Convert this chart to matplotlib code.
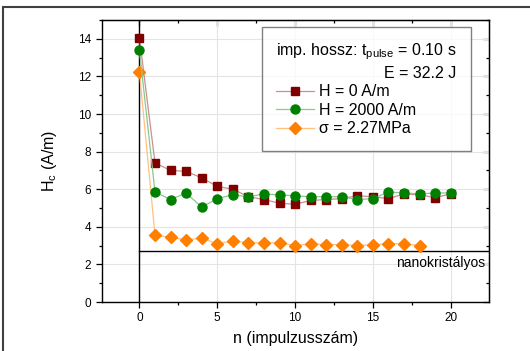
import matplotlib
matplotlib.use("Agg")
from matplotlib import pyplot as plt
from matplotlib.patches import Rectangle
import matplotlib.ticker as ticker

plt.rcParams['font.family'] = ['Liberation Sans', 'DejaVu Sans']

# adatok (leolvasva)
n_h0 = list(range(0, 21))
hc_h0 = [14.05, 7.4, 7.0, 6.95, 6.6, 6.15, 6.0, 5.6, 5.45, 5.25, 5.2,
         5.4, 5.45, 5.5, 5.65, 5.6, 5.5, 5.75, 5.7, 5.55, 5.75]

n_h2000 = list(range(0, 21))
hc_h2000 = [13.4, 5.85, 5.45, 5.8, 5.05, 5.5, 5.7, 5.6, 5.75, 5.7, 5.65,
            5.6, 5.6, 5.6, 5.45, 5.5, 5.85, 5.8, 5.75, 5.8, 5.8]

n_sig = list(range(0, 19))
hc_sig = [12.25, 3.55, 3.45, 3.3, 3.4, 3.1, 3.25, 3.15, 3.15, 3.15, 3.0,
          3.1, 3.05, 3.05, 3.0, 3.05, 3.1, 3.1, 3.0]

nano_level = 2.7

fig = plt.figure(figsize=(5.30, 3.51), dpi=100)
ax = fig.add_axes([0.192, 0.1396, 0.7307, 0.8034])

# keret a kép körül
fig.patches.append(Rectangle((3 / 530, -0.1), 2, (351 - 7) / 351 + 0.1,
                             transform=fig.transFigure, fill=False,
                             edgecolor='#404040', linewidth=1.5))

ax.set_xlim(-2.42, 22.46)
ax.set_ylim(0, 15)
ax.grid(which='major', color='#e4e4e4', linewidth=0.8)
ax.set_axisbelow(True)

ax.plot(n_h0, hc_h0, color='#c89090', linewidth=0.9, marker='s', markersize=5.5,
        markerfacecolor='#800000', markeredgecolor='#800000', label='H = 0 A/m', zorder=3)
ax.plot(n_h2000, hc_h2000, color='#8cc88c', linewidth=0.9, marker='o', markersize=6.5,
        markerfacecolor='#008000', markeredgecolor='#008000', label='H = 2000 A/m', zorder=4)
ax.plot(n_sig, hc_sig, color='#ffc080', linewidth=0.9, marker='D', markersize=6,
        markerfacecolor='#ff8000', markeredgecolor='#ff8000', label='σ = 2.27MPa', zorder=3)

ax.axvline(0, color='black', linewidth=1.0, zorder=2)
ax.plot([0, 22.46], [nano_level, nano_level], color='black', linewidth=1.0, zorder=2)
ax.text(22.2, 2.1, 'nanokristályos', ha='right', va='center', fontsize=10)

ax.xaxis.set_major_locator(ticker.MultipleLocator(5))
ax.xaxis.set_minor_locator(ticker.MultipleLocator(2.5))
ax.yaxis.set_major_locator(ticker.MultipleLocator(2))
ax.yaxis.set_minor_locator(ticker.MultipleLocator(1))
ax.tick_params(which='both', direction='out', labelsize=8.5, width=0.9)
ax.tick_params(which='major', length=4)
ax.tick_params(which='minor', length=2.5)

# felső és jobb tengely befelé mutató jelekkel
sec_x = ax.secondary_xaxis('top')
sec_x.xaxis.set_major_locator(ticker.MultipleLocator(5))
sec_x.xaxis.set_minor_locator(ticker.MultipleLocator(2.5))
sec_x.tick_params(which='both', direction='in', labeltop=False, width=0.9)
sec_x.tick_params(which='major', length=4)
sec_x.tick_params(which='minor', length=2.5)
sec_y = ax.secondary_yaxis('right')
sec_y.yaxis.set_major_locator(ticker.MultipleLocator(2))
sec_y.yaxis.set_minor_locator(ticker.MultipleLocator(1))
sec_y.tick_params(which='both', direction='in', labelright=False, width=0.9)
sec_y.tick_params(which='major', length=4)
sec_y.tick_params(which='minor', length=2.5)

for s in ax.spines.values():
    s.set_linewidth(1.0)

ax.set_xlabel('n (impulzusszám)', fontsize=11.5, labelpad=5)
ax.set_ylabel('H$_\\mathregular{c}$ (A/m)', fontsize=11.5, labelpad=14)

leg = ax.legend(loc='upper right', bbox_to_anchor=(0.953, 0.975), fontsize=11.5,
                title='imp. hossz: t$_{\\mathregular{pulse}}$ = 0.10 s\nE = 32.2 J',
                title_fontsize=11.5, frameon=True, fancybox=False, edgecolor='#606060',
                handlelength=2.4, handletextpad=0.3, labelspacing=0.22,
                borderpad=0.9, borderaxespad=0)
leg.get_title().set_multialignment('right')
leg.get_title().set_linespacing(1.3)
leg._legend_box.align = 'left'
leg.get_frame().set_linewidth(1.0)

fig.savefig('out.png', dpi=100)
